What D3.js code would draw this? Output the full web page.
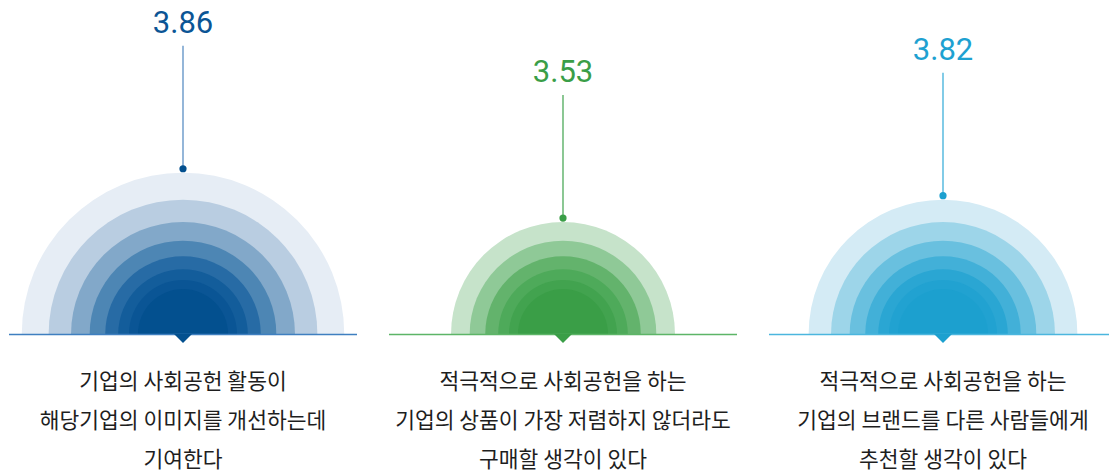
<!DOCTYPE html>
<html>
<head>
<meta charset="utf-8">
<script src="https://cdn.jsdelivr.net/npm/d3@7"></script>
<style>
  html, body { margin: 0; padding: 0; background: #fff; }
  svg { display: block; }
</style>
</head>
<body>
<svg id="chart" width="1109" height="472"></svg>
<script>
// ---- data ----
const categories = ["image", "purchase", "recommend"];
const values = [3.86, 3.53, 3.82];
const labelLines = [
  ["기업의 사회공헌 활동이", "해당기업의 이미지를 개선하는데", "기여한다"],
  ["적극적으로 사회공헌을 하는", "기업의 상품이 가장 저렴하지 않더라도", "구매할 생각이 있다"],
  ["적극적으로 사회공헌을 하는", "기업의 브랜드를 다른 사람들에게", "추천할 생각이 있다"]
];

// ---- styles (inner -> outer ring colours) ----
const ringPalettes = [
  ["#03508f", "#0a5595", "#135d9b", "#276ba5", "#4d86b4", "#82a8c9", "#b9cde1", "#e6edf5"],
  ["#3a9e47", "#42a34f", "#4eaa5a", "#63b36c", "#8fc997", "#c6e3ca"],
  ["#1ca0cf", "#21a2d1", "#2aa6d3", "#42b0d8", "#69c0df", "#9dd5e9", "#d4ebf5"]
];
const labelColors = ["#0b5595", "#3a9e47", "#1ea1d1"];
const stemColors = ["#5b8fc4", "#4eaa5a", "#3fb0da"];
const baseColors = ["#3f7fc0", "#5db567", "#4bb6de"];

const svg = d3.select("#chart");
const baseY = 334;
const panelHalf = 174;

const x = d3.scalePoint().domain(categories).range([183, 943]);

// number of rings by rank of value (lowest value -> 6 rings)
const sorted = values.slice().sort(d3.ascending);
const ringCount = d3.scaleOrdinal().domain(sorted).range([6, 7, 8]);
const ringRadius = k => 45 * Math.pow(1.2, k);
const fmt = d3.format(".2f");

const arc = d3.arc()
  .innerRadius(0)
  .startAngle(-Math.PI / 2)
  .endAngle(Math.PI / 2);

categories.forEach((c, i) => {
  const cx = x(c);
  const n = ringCount(values[i]);
  const g = svg.append("g").attr("transform", `translate(${cx},${baseY})`);
  const ks = d3.range(n).reverse(); // outer first
  g.selectAll("path.ring")
    .data(ks)
    .join("path")
    .attr("class", "ring")
    .attr("d", k => arc.outerRadius(ringRadius(k))())
    .attr("fill", k => ringPalettes[i][k]);

  const rOuter = ringRadius(n - 1);
  const dotY = -rOuter - 4;
  const labelY = -rOuter - 140;

  // baseline
  g.append("line")
    .attr("x1", -panelHalf).attr("x2", panelHalf)
    .attr("y1", 0.5).attr("y2", 0.5)
    .attr("stroke", baseColors[i]).attr("stroke-width", 1.3);

  // pointer triangle
  g.append("path")
    .attr("d", "M-9,0 L9,0 L0,9 Z")
    .attr("fill", ringPalettes[i][0]);

  // stem + dot
  g.append("line")
    .attr("x1", 0).attr("x2", 0)
    .attr("y1", labelY + 13).attr("y2", dotY)
    .attr("stroke", stemColors[i]).attr("stroke-width", 1.3);
  g.append("circle")
    .attr("cx", 0).attr("cy", dotY).attr("r", 3.6)
    .attr("fill", ringPalettes[i][0]);

  // value label
  g.append("text")
    .attr("x", 0).attr("y", labelY)
    .attr("text-anchor", "middle")
    .attr("font-family", "Roboto, 'Liberation Sans', Arial, sans-serif")
    .attr("font-size", 31)
    .attr("font-weight", 400)
    .attr("fill", labelColors[i])
    .text(fmt(values[i]));

  // category text
  const t = svg.append("text")
    .attr("text-anchor", "middle")
    .attr("font-family", "'Noto Sans CJK KR', 'Noto Sans', sans-serif")
    .attr("font-size", 21.5)
    .attr("fill", "#1e1e1e");
  labelLines[i].forEach((line, j) => {
    t.append("tspan")
      .attr("x", cx)
      .attr("y", 388.5 + j * 39)
      .text(line);
  });
});
</script>
</body>
</html>
